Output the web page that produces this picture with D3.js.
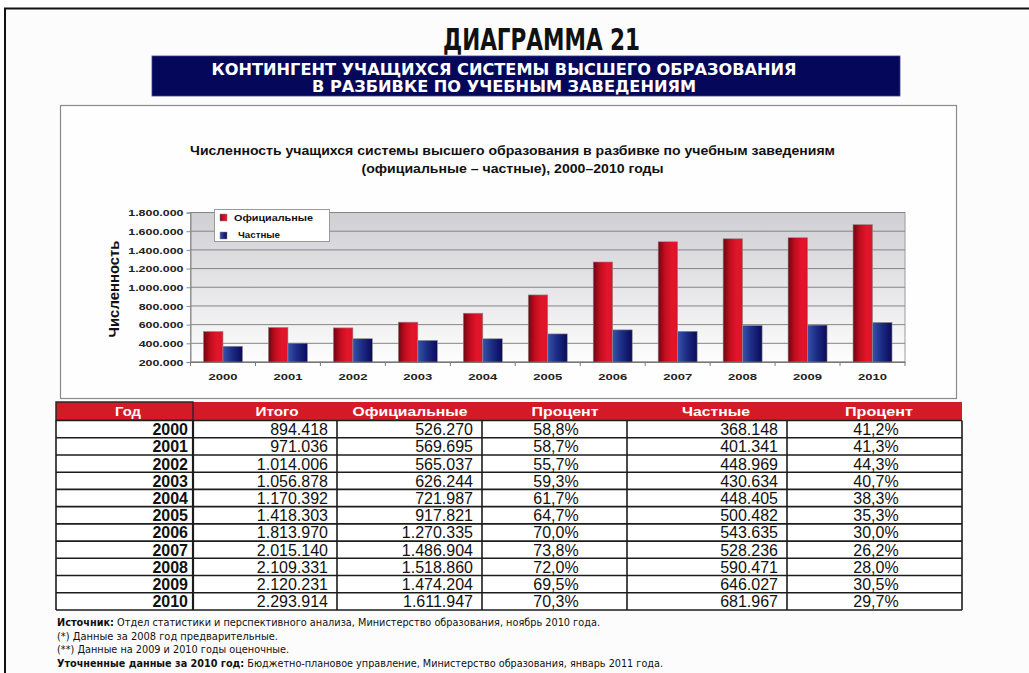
<!DOCTYPE html>
<html><head><meta charset="utf-8">
<script src="https://cdn.jsdelivr.net/npm/d3@7/dist/d3.min.js"></script>
<style>body{margin:0;background:#fff;}svg{display:block;}</style>
</head><body>
<svg id="c" width="1029" height="673"></svg>
<script>
// ---------- DATA ----------
const years = ["2000","2001","2002","2003","2004","2005","2006","2007","2008","2009","2010"];
// table values
const total = [894418, 971036, 1014006, 1056878, 1170392, 1418303, 1813970, 2015140, 2109331, 2120231, 2293914];
const official = [526270, 569695, 565037, 626244, 721987, 917821, 1270335, 1486904, 1518860, 1474204, 1611947];
const officialPct = [58.8, 58.7, 55.7, 59.3, 61.7, 64.7, 70.0, 73.8, 72.0, 69.5, 70.3];
const privateVals = [368148, 401341, 448969, 430634, 448405, 500482, 543635, 528236, 590471, 646027, 681967];
const privatePct = [41.2, 41.3, 44.3, 40.7, 38.3, 35.3, 30.0, 26.2, 28.0, 30.5, 29.7];
// bar heights as drawn in the chart (2009 and 2010 differ from the table)
const chartOfficial = [526270, 569695, 565037, 626244, 721987, 917821, 1270335, 1486904, 1518860, 1530000, 1670000];
const chartPrivate = [368148, 401341, 448969, 430634, 448405, 500482, 543635, 528236, 590471, 595000, 623000];
const seriesNames = ["Официальные", "Частные"];
const yTicks = [200000, 400000, 600000, 800000, 1000000, 1200000, 1400000, 1600000, 1800000];
const tableHeaders = ["Год", "Итого", "Официальные", "Процент", "Частные", "Процент"];

const pageTitle = "ДИАГРАММА 21";
const bannerLines = ["КОНТИНГЕНТ УЧАЩИХСЯ СИСТЕМЫ ВЫСШЕГО ОБРАЗОВАНИЯ", "В РАЗБИВКЕ ПО УЧЕБНЫМ ЗАВЕДЕНИЯМ"];
const chartTitleLines = ["Численность учащихся системы высшего образования в разбивке по учебным заведениям", "(официальные – частные), 2000–2010 годы"];
const yTitle = "Численность";
const notes = [
  ["Источник:", " Отдел статистики и перспективного анализа, Министерство образования, ноябрь 2010 года."],
  ["", "(*)  Данные за 2008 год предварительные."],
  ["", "(**) Данные на 2009 и 2010 годы оценочные."],
  ["Уточненные данные за 2010 год:", " Бюджетно-плановое управление, Министерство образования, январь 2011 года."]
];

// ---------- SETUP ----------
const loc = d3.formatLocale({decimal: ",", thousands: ".", grouping: [3], currency: ["", ""]});
const fmtInt = loc.format(",d");
const fmtPct = v => loc.format(",.1f")(v) + "%";

const svg = d3.select("#c");
const NARROW = "'Liberation Sans Narrow','DejaVu Sans Condensed','Liberation Sans',Arial,sans-serif";
const SANS = "'Liberation Sans',Arial,Helvetica,sans-serif";

const defs = svg.append("defs");
const gr = defs.append("linearGradient").attr("id", "gRed").attr("x1", "0").attr("x2", "1").attr("y1", "0").attr("y2", "0");
gr.append("stop").attr("offset", "0%").attr("stop-color", "#6e0612");
gr.append("stop").attr("offset", "35%").attr("stop-color", "#c20d1f");
gr.append("stop").attr("offset", "70%").attr("stop-color", "#e2152b");
gr.append("stop").attr("offset", "100%").attr("stop-color", "#dc1428");
const gb = defs.append("linearGradient").attr("id", "gBlue").attr("x1", "0").attr("x2", "1").attr("y1", "0").attr("y2", "0");
gb.append("stop").attr("offset", "0%").attr("stop-color", "#3852a8");
gb.append("stop").attr("offset", "45%").attr("stop-color", "#1d2d86");
gb.append("stop").attr("offset", "100%").attr("stop-color", "#0a0a58");
const gp = defs.append("linearGradient").attr("id", "gPlot").attr("x1", "0").attr("x2", "0").attr("y1", "0").attr("y2", "1");
gp.append("stop").attr("offset", "0%").attr("stop-color", "#cfcfd4");
gp.append("stop").attr("offset", "100%").attr("stop-color", "#fdfdfd");
const fills = ["url(#gRed)", "url(#gBlue)"];

// page background and border
svg.append("rect").attr("x", 5).attr("y", 9).attr("width", 1024).attr("height", 664).attr("fill", "#fcfcfc");
svg.append("line").attr("x1", 4).attr("x2", 1029).attr("y1", 8.5).attr("y2", 8.5).attr("stroke", "#111").attr("stroke-width", 2);
svg.append("line").attr("x1", 5).attr("x2", 5).attr("y1", 8).attr("y2", 673).attr("stroke", "#111").attr("stroke-width", 2);

// title
svg.append("text").attr("x", 541.5).attr("y", 50).attr("text-anchor", "middle")
  .attr("font-family", NARROW).attr("font-weight", "bold").attr("font-size", 30).attr("fill", "#111")
  .attr("textLength", 197).attr("lengthAdjust", "spacingAndGlyphs").text(pageTitle);

// banner
svg.append("rect").attr("x", 152).attr("y", 56).attr("width", 748).attr("height", 40).attr("fill", "#05085a").attr("stroke", "#3a3f88").attr("stroke-width", 0.8);
const bannerW = [585, 384];
bannerLines.forEach((t, i) => {
  svg.append("text").attr("x", 504).attr("y", 75 + i * 17).attr("text-anchor", "middle")
    .attr("font-family", NARROW).attr("font-weight", "bold").attr("font-size", 16.5).attr("fill", "#fff")
    .attr("textLength", bannerW[i]).attr("lengthAdjust", "spacingAndGlyphs").text(t);
});

// chart box
svg.append("rect").attr("x", 60.5).attr("y", 105.5).attr("width", 896).attr("height", 293).attr("fill", "#fefefe").attr("stroke", "#8a8a8a").attr("stroke-width", 1.2);
const ctW = [645, 302];
chartTitleLines.forEach((t, i) => {
  svg.append("text").attr("x", 512.5).attr("y", 155 + i * 18).attr("text-anchor", "middle")
    .attr("font-family", SANS).attr("font-weight", "bold").attr("font-size", 13.5).attr("fill", "#111")
    .attr("textLength", ctW[i]).attr("lengthAdjust", "spacingAndGlyphs").text(t);
});

// ---------- CHART ----------
const x0 = d3.scaleBand().domain(years).range([190.5, 905]).paddingInner(0.4).paddingOuter(0.2);
const x1 = d3.scaleBand().domain(seriesNames).range([0, x0.bandwidth()]);
const y = d3.scaleLinear().domain([200000, 1800000]).range([362, 212.5]);
const [px0, px1] = x0.range();

svg.append("rect").attr("x", px0).attr("y", y(1800000)).attr("width", px1 - px0).attr("height", y(200000) - y(1800000))
  .attr("fill", "url(#gPlot)").attr("stroke", "#9a9a9a").attr("stroke-width", 1);

svg.append("g").selectAll("line").data(yTicks).join("line")
  .attr("x1", px0).attr("x2", px1).attr("y1", d => y(d)).attr("y2", d => y(d))
  .attr("stroke", "#858585").attr("stroke-width", 1);

const yAxis = svg.append("g").attr("transform", `translate(${px0},0)`)
  .call(d3.axisLeft(y).tickValues(yTicks).tickFormat(fmtInt).tickSize(4).tickPadding(3));
yAxis.select(".domain").attr("stroke", "#8a8a8a");
yAxis.selectAll(".tick line").attr("stroke", "#8a8a8a");
yAxis.selectAll(".tick text").attr("font-family", SANS).attr("font-weight", "bold").attr("font-size", 9).attr("fill", "#222")
  .attr("dy", "0.35em")
  .each(function(d) { const s = fmtInt(d); const n = s.replace(/\./g, "").length; const w = (n * 0.556 + (s.length - n) * 0.278) * 9 * 1.38; d3.select(this).attr("textLength", w).attr("lengthAdjust", "spacingAndGlyphs"); });

// bars
const groups = svg.append("g").selectAll("g").data(years).join("g").attr("transform", d => `translate(${x0(d)},0)`);
groups.selectAll("rect").data((d, i) => [chartOfficial[i], chartPrivate[i]].map((v, k) => ({k, v}))).join("rect")
  .attr("x", d => x1(seriesNames[d.k])).attr("width", x1.bandwidth())
  .attr("y", d => y(d.v)).attr("height", d => y(200000) - y(d.v))
  .attr("fill", d => fills[d.k]).attr("stroke", "#8c8c8c").attr("stroke-width", 0.6);

// x axis
const xAxis = svg.append("g").attr("transform", `translate(0,${y(200000)})`)
  .call(d3.axisBottom(x0).tickSize(0).tickPadding(11));
xAxis.select(".domain").attr("stroke", "#777").attr("stroke-width", 1.2);
xAxis.selectAll(".tick text").attr("font-family", SANS).attr("font-weight", "bold").attr("font-size", 9.5).attr("fill", "#222")
  .attr("textLength", 29).attr("lengthAdjust", "spacingAndGlyphs");
svg.append("g").selectAll("line").data(d3.range(years.length + 1)).join("line")
  .attr("x1", i => px0 + i * x0.step()).attr("x2", i => px0 + i * x0.step())
  .attr("y1", y(200000)).attr("y2", y(200000) + 4).attr("stroke", "#777");

// y title
svg.append("text").attr("transform", "translate(119,289) rotate(-90)").attr("text-anchor", "middle")
  .attr("font-family", SANS).attr("font-weight", "bold").attr("font-size", 15).attr("fill", "#111")
  .attr("textLength", 97).attr("lengthAdjust", "spacingAndGlyphs").text(yTitle);

// legend
const lg = svg.append("g");
lg.append("rect").attr("x", 214.5).attr("y", 209.5).attr("width", 115).attr("height", 32).attr("fill", "#fff").attr("stroke", "#9a9a9a");
const legW = [79, 42];
seriesNames.forEach((n, i) => {
  lg.append("rect").attr("x", 220).attr("y", 214 + i * 18).attr("width", 7).attr("height", 7).attr("fill", fills[i]).attr("stroke", "#888").attr("stroke-width", 0.5);
  lg.append("text").attr("x", 234 + i * 4).attr("y", 221 + i * 17).attr("font-family", SANS).attr("font-weight", "bold").attr("font-size", 9.5).attr("fill", "#111")
    .attr("textLength", legW[i]).attr("lengthAdjust", "spacingAndGlyphs").text(n);
});

// ---------- TABLE ----------
const colEdges = [56, 193, 337, 482, 627, 787, 962];
const headerTop = 402, bodyTop = 420.5, bodyBottom = 610;
const rowY = d3.scaleBand().domain(years).range([bodyTop, bodyBottom]);

svg.append("rect").attr("x", colEdges[0]).attr("y", headerTop).attr("width", colEdges[6] - colEdges[0]).attr("height", bodyTop - headerTop).attr("fill", "#d41a27");
svg.append("rect").attr("x", colEdges[0]).attr("y", headerTop).attr("width", colEdges[1] - colEdges[0]).attr("height", bodyTop - headerTop).attr("fill", "none").attr("stroke", "#2a2a2a").attr("stroke-width", 1.5);
const headX = [128, 277, 410, 565, 716, 879];
const headW = [26, 43, 115, 67, 68, 68];
tableHeaders.forEach((h, i) => {
  svg.append("text").attr("x", headX[i]).attr("y", 415.5).attr("text-anchor", "middle")
    .attr("font-family", SANS).attr("font-weight", "bold").attr("font-size", 13.5).attr("fill", "#fff")
    .attr("textLength", headW[i]).attr("lengthAdjust", "spacingAndGlyphs").text(h);
});

svg.append("rect").attr("x", colEdges[0]).attr("y", bodyTop).attr("width", colEdges[6] - colEdges[0]).attr("height", bodyBottom - bodyTop).attr("fill", "#fff");
const tbl = svg.append("g");
tbl.selectAll("line.h").data(years.concat(["end"])).join("line").attr("class", "h")
  .attr("x1", colEdges[0]).attr("x2", colEdges[6])
  .attr("y1", d => d === "end" ? bodyBottom : rowY(d)).attr("y2", d => d === "end" ? bodyBottom : rowY(d))
  .attr("stroke", "#1c1c1c").attr("stroke-width", 1.6);
tbl.selectAll("line.v").data(colEdges).join("line").attr("class", "v")
  .attr("x1", d => d).attr("x2", d => d).attr("y1", bodyTop).attr("y2", bodyBottom)
  .attr("stroke", "#1c1c1c").attr("stroke-width", (d, i) => i === 1 ? 2.2 : 1.6);

const cols = [
  {vals: years, fmt: d => d, anchor: "end", x: 188, bold: true},
  {vals: total, fmt: fmtInt, anchor: "end", x: 328},
  {vals: official, fmt: fmtInt, anchor: "end", x: 473},
  {vals: officialPct, fmt: fmtPct, anchor: "middle", x: 556},
  {vals: privateVals, fmt: fmtInt, anchor: "end", x: 778},
  {vals: privatePct, fmt: fmtPct, anchor: "middle", x: 876}
];
cols.forEach(c => {
  tbl.append("g").selectAll("text").data(c.vals).join("text")
    .attr("x", c.x).attr("y", (d, i) => rowY(years[i]) + 14.6).attr("text-anchor", c.anchor)
    .attr("font-family", SANS).attr("font-weight", c.bold ? "bold" : "normal").attr("font-size", 16).attr("fill", "#111")
    .text(c.fmt);
});

// ---------- NOTES ----------
const noteY = [626, 639.5, 653, 666.5];
const noteW = [543, 221, 232, 606];
notes.forEach((n, i) => {
  const t = svg.append("text").attr("x", 57).attr("y", noteY[i]).attr("font-family", NARROW).attr("font-size", 11).attr("fill", "#111")
    .attr("textLength", noteW[i]).attr("lengthAdjust", "spacingAndGlyphs");
  if (n[0]) t.append("tspan").attr("font-weight", "bold").text(n[0]);
  t.append("tspan").text(n[1]);
});
</script>
</body></html>
